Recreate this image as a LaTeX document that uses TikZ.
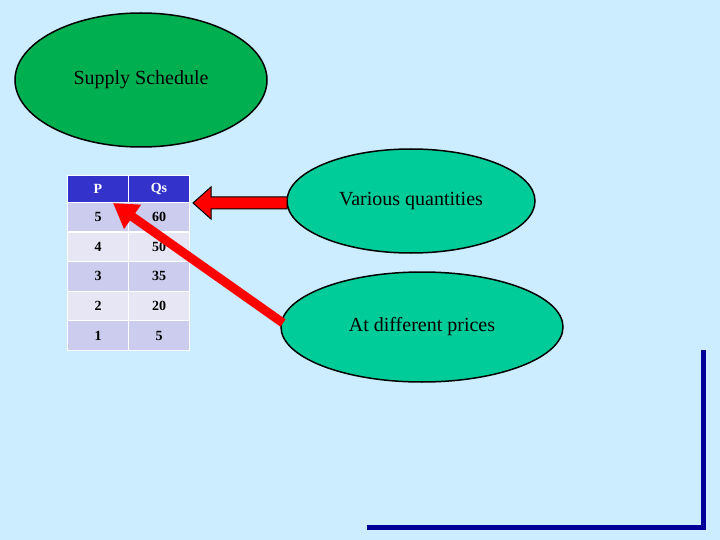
\documentclass[tikz,border=0pt]{standalone}
\usepackage{fontspec}
\setmainfont{Liberation Serif}
\usetikzlibrary{shapes.geometric,shapes.arrows,arrows.meta}
\definecolor{bg}{HTML}{CCECFF}
\definecolor{dkgreen}{HTML}{00B050}
\definecolor{teal}{HTML}{00CC99}
\definecolor{hdr}{HTML}{3333CC}
\definecolor{rowa}{HTML}{CCCCEE}
\definecolor{rowb}{HTML}{E6E6F4}
\definecolor{navy}{HTML}{000099}
\begin{document}
\begin{tikzpicture}[x=1pt,y=-1pt,
  oval/.style={ellipse,draw=black,line width=1.5pt,inner sep=0pt},
  cell/.style={draw=white,line width=1pt,minimum width=61pt,minimum height=29.4pt,anchor=north west,font=\bfseries\fontsize{14}{16}\selectfont}]
\fill[bg] (0,0) rectangle (720,540);
\useasboundingbox (0,0) rectangle (720,540);
\node[oval,fill=dkgreen,minimum width=252pt,minimum height=134pt,font=\fontsize{20}{24}\selectfont] (ss) at (141,80) {Supply Schedule};
\node[oval,fill=teal,minimum width=248pt,minimum height=104pt,font=\fontsize{20}{24}\selectfont] (vq) at (411,201) {Various quantities};
\node[oval,fill=teal,minimum width=282pt,minimum height=110pt,font=\fontsize{20}{24}\selectfont] (dp) at (422,327) {At different prices};
% table
\node[cell,fill=hdr,text=white,minimum height=27pt] (h1) at (67,175) {P};
\node[cell,fill=hdr,text=white,minimum height=27pt] (h2) at (128,175) {Qs};
\foreach \p/\q/\c [count=\i] in {5/60/rowa,4/50/rowb,3/35/rowa,2/20/rowb,1/5/rowa}{
  \node[cell,fill=\c] (p\i) at (67,{202+(\i-1)*29.6}) {\p};
  \node[cell,fill=\c] (q\i) at (128,{202+(\i-1)*29.6}) {\q};
}
% block arrow
\coordinate (bt) at (193,203);
\draw[black,line width=1pt,fill=red] (287,197) -- (211,197) -- (211,187) -- (bt) -- (211,219) -- (211,209) -- (287,209) -- cycle;
% thick red arrow
\coordinate (st) at (283,323);
\coordinate (tp) at (113,203);
\draw[red,line width=9pt,-{Triangle[width=28pt,length=24pt]}] (st) -- (tp);
% blue L
\coordinate (la) at (703,350);
\coordinate (lb) at (703,527);
\coordinate (lc) at (367,527);
\draw[navy,line width=5pt] (la) -- (lb) -- (lc);
\end{tikzpicture}
\end{document}
